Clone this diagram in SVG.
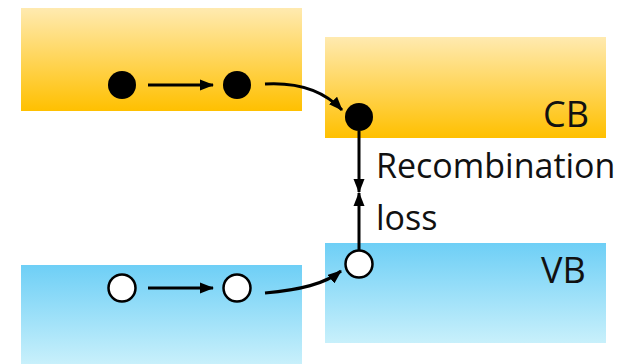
<svg xmlns="http://www.w3.org/2000/svg" width="620" height="364" viewBox="0 0 620 364">
  <defs>
    <linearGradient id="cbGrad" x1="0" y1="0" x2="0" y2="1">
      <stop offset="0" stop-color="#FFEAB0"/>
      <stop offset="1" stop-color="#FFC000"/>
    </linearGradient>
    <linearGradient id="vbGrad" x1="0" y1="0" x2="0" y2="1">
      <stop offset="0" stop-color="#6ECFF6"/>
      <stop offset="1" stop-color="#C8F0FB"/>
    </linearGradient>
    <marker id="arrow" viewBox="0 0 14 11" refX="13" refY="5.5" markerWidth="4.67" markerHeight="3.67" orient="auto" markerUnits="strokeWidth">
      <path d="M0,0 L14,5.5 L0,11 z" fill="#000"/>
    </marker>
    <style>
      .line { fill: none; stroke: #000; stroke-width: 3; }
      .electron { fill: #000; }
      .hole { fill: #fff; stroke: #000; stroke-width: 2.5; }
      .label { font-family: "Open Sans", Lato, sans-serif; fill: #111; }
    </style>
  </defs>

  <!-- band blocks -->
  <g id="cb-left"><rect x="21" y="8" width="281" height="103" fill="url(#cbGrad)"/></g>
  <g id="cb-right"><rect x="325" y="37" width="281" height="101" fill="url(#cbGrad)"/></g>
  <g id="vb-left"><rect x="21" y="265" width="281" height="99" fill="url(#vbGrad)"/></g>
  <g id="vb-right"><rect x="325" y="243" width="281" height="100" fill="url(#vbGrad)"/></g>

  <!-- carriers -->
  <g id="e1"><circle class="electron" cx="122" cy="85" r="14"/></g>
  <g id="e2"><circle class="electron" cx="237" cy="85" r="14"/></g>
  <g id="e3"><circle class="electron" cx="359" cy="117" r="14"/></g>
  <g id="h1"><circle class="hole" cx="122" cy="288" r="13.5"/></g>
  <g id="h2"><circle class="hole" cx="237" cy="288" r="13.5"/></g>
  <g id="h3"><circle class="hole" cx="359" cy="264" r="13.5"/></g>

  <!-- connectors -->
  <g id="connectors">
    <path class="line" d="M148,85 L213,85" marker-end="url(#arrow)"/>
    <path class="line" d="M265,84 C300,82 325,92 342,110" marker-end="url(#arrow)"/>
    <path class="line" d="M148,288 L213,288" marker-end="url(#arrow)"/>
    <path class="line" d="M265,293 C300,290 325,284 341,271" marker-end="url(#arrow)"/>
    <path class="line" d="M359,131 L359,192" marker-end="url(#arrow)"/>
    <path class="line" d="M359,250 L359,193" marker-end="url(#arrow)"/>
  </g>

  <!-- labels -->
  <text class="label" x="543" y="127" font-size="36">CB</text>
  <text class="label" x="541" y="283" font-size="36">VB</text>
  <text class="label" x="376" y="178" font-size="34">Recombination</text>
  <text class="label" x="376" y="230" font-size="34">loss</text>
</svg>
